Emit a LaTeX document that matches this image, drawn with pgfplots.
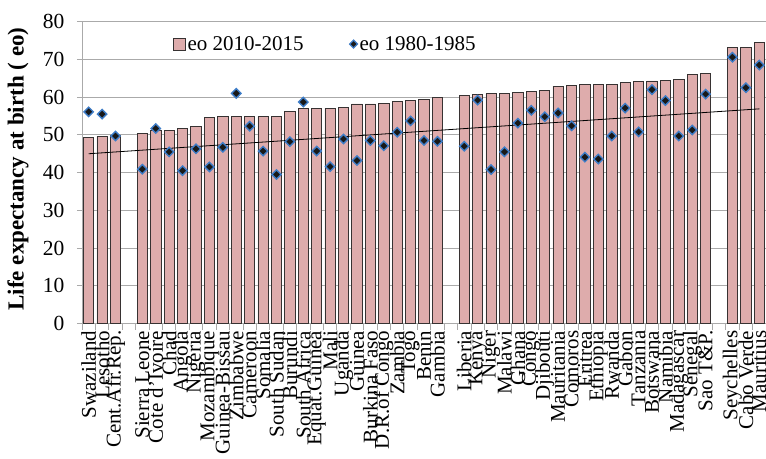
\documentclass[border=0pt]{standalone}
\usepackage{pgfplots}
\usepackage{pgfplotstable}
\pgfplotsset{compat=1.18}
\usepackage{fontspec}
\setmainfont{Liberation Serif}
\definecolor{barfill}{RGB}{222,172,172}
\definecolor{baredge}{RGB}{55,50,50}
\definecolor{mkblue}{RGB}{62,125,200}
\definecolor{gridgray}{RGB}{170,170,170}

\pgfplotstableread{
x y
0 49.3
1 49.6
2 49.8
4 50.3
5 51.1
6 51.2
7 51.7
8 52.3
9 54.7
10 54.8
11 54.8
12 54.8
13 54.9
14 55.0
15 56.1
16 57.1
17 57.1
18 57.1
19 57.2
20 58.2
21 58.2
22 58.3
23 58.8
24 59.2
25 59.3
26 59.9
28 60.4
29 60.8
30 60.9
31 61.1
32 61.2
33 61.5
34 61.8
35 62.9
36 63.0
37 63.3
38 63.3
39 63.4
40 63.8
41 64.2
42 64.3
43 64.5
44 64.6
45 65.9
46 66.4
48 73.2
49 73.2
50 74.4
}\bars

\pgfplotstableread{
x y
0 56.1
1 55.5
2 49.7
4 40.9
5 51.7
6 45.5
7 40.5
8 46.3
9 41.5
10 46.7
11 61.0
12 52.3
13 45.7
14 39.5
15 48.2
16 58.7
17 45.7
18 41.6
19 48.9
20 43.2
21 48.5
22 47.1
23 50.7
24 53.7
25 48.5
26 48.3
28 47.0
29 59.2
30 40.8
31 45.5
32 53.1
33 56.5
34 54.8
35 55.8
36 52.4
37 44.1
38 43.6
39 49.7
40 57.1
41 50.8
42 62.0
43 59.1
44 49.7
45 51.3
46 60.8
48 70.6
49 62.5
50 68.5
}\old

\begin{document}
\begin{tikzpicture}
\begin{axis}[
  at={(0,0)}, anchor=south west,
  scale only axis, width=684pt, height=301.8pt,
  xmin=-0.5, xmax=50.5, ymin=0, ymax=80,
  axis x line*=bottom, axis y line*=left,
  axis line style={gridgray, line width=0.8pt, -},
  ytick={0,10,...,80},
  ymajorgrids, grid style={gridgray, line width=0.8pt},
  xtick={0,...,50},
  xticklabels={Swaziland, Lesotho, Cent.Afr.Rep., {}, Sierra Leone, Cote d'Ivoire, Chad, Angola, Nigeria, Mozambique, Guinea-Bissau, Zimbabwe, Cameroon, Somalia, South Sudan, Burundi, South Africa, Equat.Guinea, Mali, Uganda, Guinea, Burkina Faso, D.R.of Congo, Zambia, Togo, Benin, Gambia, {}, Liberia, Kenya, Niger, Malawi, Ghana, Congo, Djibouti, Mauritania, Comoros, Eritrea, Ethiopia, Rwanda, Gabon, Tanzania, Botswana, Namibia, Madagascar, Senegal, Sao T\&P., {}, Seychelles, Cabo Verde, Mauritius},
  major x tick style={draw=none},
  minor xtick={-0.5,0.5,...,50.5},
  minor tick length=6pt,
  major tick length=5pt,
  tick align=outside,
  tick style={gridgray, line width=0.8pt},
  xticklabel style={rotate=90, anchor=east, font=\fontsize{21}{22}\selectfont, inner sep=2pt},
  yticklabel style={font=\fontsize{21.5}{22}\selectfont, xshift=-9pt},
  /pgf/number format/assume math mode=true,
  ylabel={Life expectancy at birth ( eo)},
  every axis y label/.style={at={(axis description cs:-0.0936,0.512)}, rotate=90, anchor=center, font=\bfseries\fontsize{23}{25}\selectfont},
  legend style={at={(axis description cs:0.128,0.926)}, anchor=west, draw=none, fill=none,
    legend columns=2, font=\fontsize{21}{22}\selectfont,
    /tikz/every even column/.append style={column sep=44pt}},
]
\addplot[ybar, bar width=10.3pt, fill=barfill, draw=baredge, line width=0.8pt,
  legend image code/.code={\draw[fill=barfill, draw=baredge, line width=0.8pt] (0pt,-6pt) rectangle (12pt,6pt);}]
  table[x=x,y=y]{\bars};
\addlegendentry{eo 2010-2015}
\addplot[only marks, mark=square*, mark size=3.3pt,
  mark options={rotate=45, fill=black!90, draw=mkblue, line width=1.4pt},
  legend image code/.code={\draw[mark=square*, mark size=2.8pt, mark options={rotate=45, fill=black!90, draw=mkblue, line width=1.2pt}] plot coordinates {(5pt,0pt)};}]
  table[x=x,y=y]{\old};
\addlegendentry{eo 1980-1985}
\addplot[black, line width=0.8pt, forget plot] coordinates {(0,45.0) (50,56.9)};
\end{axis}
\pgfresetboundingbox
\path[use as bounding box] (-82pt,-134.5pt) rectangle (684pt,323.5pt);
\end{tikzpicture}
\end{document}
